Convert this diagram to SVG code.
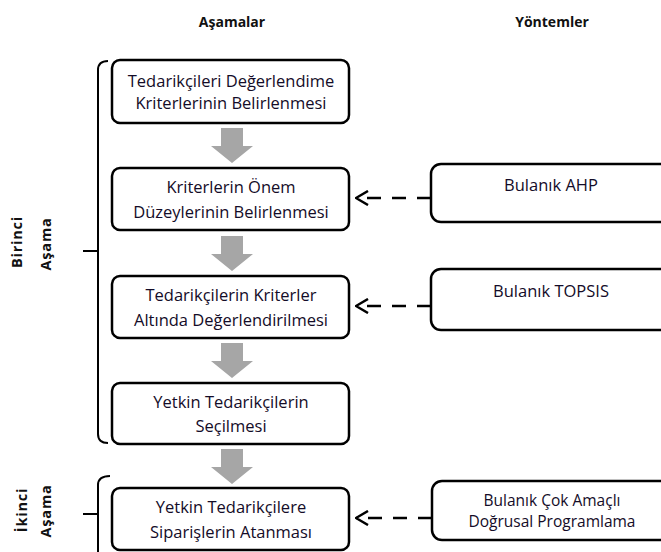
<svg xmlns="http://www.w3.org/2000/svg" width="661" height="552" viewBox="0 0 661 552">
<style>
.box{fill:#fff;stroke:#000;stroke-width:2.5}
.t{font-family:"Open Sans","Liberation Sans",sans-serif;font-size:16.5px;fill:#140c28;text-anchor:middle}
.s{font-family:"Open Sans","Liberation Sans",sans-serif;font-size:15.5px;fill:#140c28;text-anchor:middle}
.h{font-family:"Open Sans","Liberation Sans",sans-serif;font-size:14px;font-weight:bold;fill:#111;text-anchor:middle}
.v{font-family:"Open Sans","Liberation Sans",sans-serif;font-size:14.5px;font-weight:bold;fill:#111;text-anchor:middle;letter-spacing:0.8px}
.garrow{fill:#a6a6a6}
.dash{stroke:#000;stroke-width:2.5;stroke-dasharray:14 11;fill:none}
.br{fill:none;stroke:#000;stroke-width:2}
</style>
<defs>
<marker id="open" viewBox="0 0 14 16" refX="13" refY="8" markerWidth="14" markerHeight="16" markerUnits="userSpaceOnUse" orient="auto">
<path d="M1,1 L13,8 L1,15" fill="none" stroke="#000" stroke-width="2.5"/>
</marker>
<path id="ga" d="M-11,0 H11 V18 H21 L0,35 L-21,18 H-11 Z"/>
</defs>
<rect width="661" height="552" fill="#fff"/>
<g id="titles">
<text class="h" x="232" y="27">Aşamalar</text>
<text class="h" x="552" y="27">Yöntemler</text>
</g>
<g id="phase1">
<path class="br" d="M108,61 Q98,61 98,70 L98,434 Q98,443 108,443 M83,251 H98"/>
<text class="v" transform="translate(22,242) rotate(-90)">Birinci</text>
<text class="v" transform="translate(51,244) rotate(-90)">Aşama</text>
</g>
<g id="phase2">
<path class="br" d="M110,476 Q98,476 98,485 L98,552 M83,514 H98"/>
<text class="v" transform="translate(27,510) rotate(-90)">İkinci</text>
<text class="v" transform="translate(51,511) rotate(-90)">Aşama</text>
</g>
<g id="n1"><rect class="box" x="112" y="60" width="237" height="63" rx="8"/>
<text class="t" x="231" y="87">Tedarikçileri Değerlendime</text>
<text class="t" x="231" y="109">Kriterlerinin Belirlenmesi</text></g>
<g id="n2"><rect class="box" x="112" y="168" width="237" height="62" rx="8"/>
<text class="t" x="231" y="193">Kriterlerin Önem</text>
<text class="t" x="231" y="218">Düzeylerinin Belirlenmesi</text></g>
<g id="n3"><rect class="box" x="112" y="276" width="237" height="62" rx="8"/>
<text class="t" x="231" y="301">Tedarikçilerin Kriterler</text>
<text class="t" x="231" y="326">Altında Değerlendirilmesi</text></g>
<g id="n4"><rect class="box" x="112" y="383" width="237" height="61" rx="8"/>
<text class="t" x="231" y="408">Yetkin Tedarikçilerin</text>
<text class="t" x="231" y="432">Seçilmesi</text></g>
<g id="n5"><rect class="box" x="112" y="488" width="237" height="62" rx="8"/>
<text class="t" x="231" y="513">Yetkin Tedarikçilere</text>
<text class="t" x="231" y="538">Siparişlerin Atanması</text></g>
<g id="m1"><rect class="box" x="431" y="164" width="240" height="58" rx="10"/>
<text class="t" x="551" y="191">Bulanık AHP</text></g>
<g id="m2"><rect class="box" x="431" y="269" width="240" height="61" rx="10"/>
<text class="t" x="551" y="297">Bulanık TOPSIS</text></g>
<g id="m3"><rect class="box" x="432" y="481" width="240" height="59" rx="10"/>
<text class="s" x="552" y="506">Bulanık Çok Amaçlı</text>
<text class="s" x="552" y="527">Doğrusal Programlama</text></g>
<g id="connectors">
<use href="#ga" class="garrow" x="232" y="128"/>
<use href="#ga" class="garrow" x="232" y="236"/>
<use href="#ga" class="garrow" x="232" y="343"/>
<use href="#ga" class="garrow" x="232" y="449"/>
<line class="dash" x1="431" y1="198" x2="356" y2="198" marker-end="url(#open)"/>
<line class="dash" x1="431" y1="306" x2="356" y2="306" marker-end="url(#open)"/>
<line class="dash" x1="432" y1="518" x2="356" y2="518" marker-end="url(#open)"/>
</g>
</svg>
